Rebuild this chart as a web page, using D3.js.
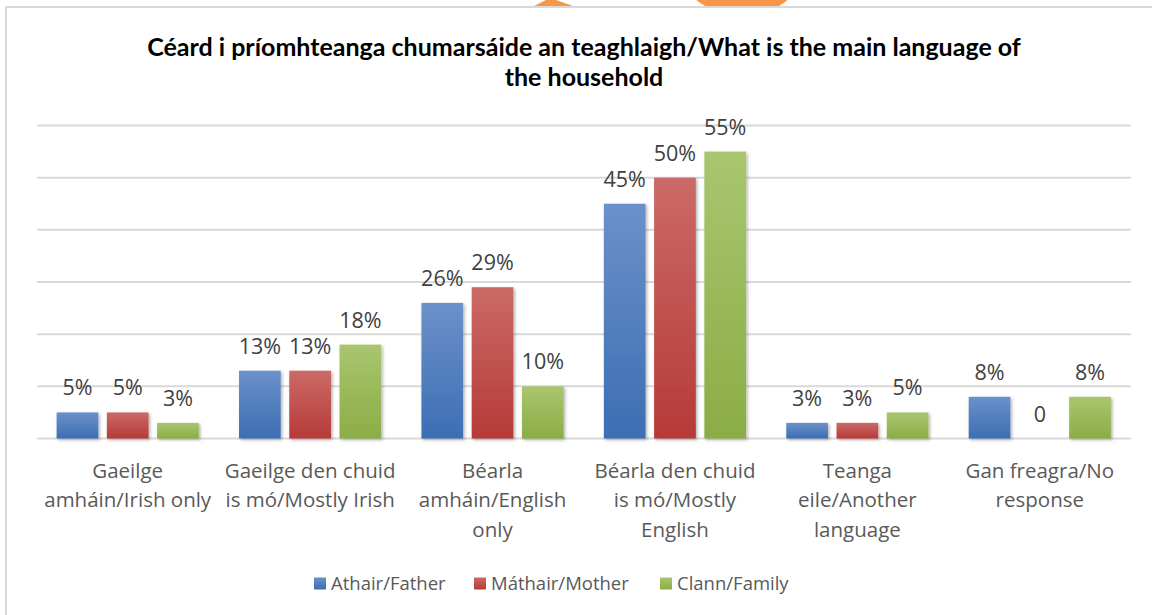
<!DOCTYPE html>
<html>
<head>
<meta charset="utf-8">
<script src="https://cdn.jsdelivr.net/npm/d3@7"></script>
<style>
  html, body { margin: 0; padding: 0; background: #fff; }
  svg { display: block; }
</style>
</head>
<body>
<svg id="chart"></svg>
<script>
// chart data
const categories = [
    ['Gaeilge', 'amháin/Irish only'],
    ['Gaeilge den chuid', 'is mó/Mostly Irish'],
    ['Béarla', 'amháin/English', 'only'],
    ['Béarla den chuid', 'is mó/Mostly', 'English'],
    ['Teanga', 'eile/Another', 'language'],
    ['Gan freagra/No', 'response'],
];
const seriesNames = ['Athair/Father', 'Máthair/Mother', 'Clann/Family'];
const father = [5, 13, 26, 45, 3, 8];
const mother = [5, 13, 29, 50, 3, 0];
const family = [3, 18, 10, 55, 5, 8];
const yTicks = [0, 10, 20, 30, 40, 50, 60];
const titleLines = [
    'Céard i príomhteanga chumarsáide an teaghlaigh/What is the main language of',
    'the household',
];

const width = 1152;
const height = 615;
const colors = [
    { top: '#6b91c9', bottom: '#3c6eb4' },
    { top: '#cb6a67', bottom: '#b63a38' },
    { top: '#a9c66f', bottom: '#8bad45' },
];
const seriesValues = [father, mother, family];

const svg = d3.select('#chart')
    .attr('width', width)
    .attr('height', height);

const defs = svg.append('defs');
colors.forEach((c, i) => {
    const g = defs.append('linearGradient')
        .attr('id', 'grad' + i)
        .attr('x1', 0).attr('y1', 0).attr('x2', 0).attr('y2', 1);
    g.append('stop').attr('offset', '0%').attr('stop-color', c.top);
    g.append('stop').attr('offset', '100%').attr('stop-color', c.bottom);
});
const shadow = defs.append('filter')
    .attr('id', 'shadow')
    .attr('x', '-20%').attr('y', '-20%').attr('width', '140%').attr('height', '140%');
shadow.append('feDropShadow')
    .attr('dx', 1.5).attr('dy', 1.5).attr('stdDeviation', 1.6)
    .attr('flood-color', '#000').attr('flood-opacity', 0.3);

// bits of an orange shape peeking in above the chart box
svg.append('path')
    .attr('d', 'M530,8 L546,0 L556,0 L573,6 L573,8 Z')
    .style('fill', '#f79646');
svg.append('circle')
    .attr('cx', 742).attr('cy', -57).attr('r', 73)
    .style('fill', '#f79646');

// chart box
svg.append('rect')
    .attr('x', 6).attr('y', 7)
    .attr('width', width + 10).attr('height', height + 10)
    .style('fill', '#fff')
    .style('stroke', '#d9d9d9')
    .style('stroke-width', 2);

// title
svg.append('g')
    .selectAll('text')
    .data(titleLines)
    .enter()
    .append('text')
    .attr('x', 584)
    .attr('y', (d, i) => 56 + i * 30)
    .attr('text-anchor', 'middle')
    .style('font-family', 'Lato, "Open Sans", sans-serif')
    .style('font-weight', 'bold')
    .style('font-size', '25px')
    .style('fill', '#000')
    .text((d) => d);

const x0 = d3.scaleBand()
    .domain(d3.range(categories.length))
    .range([36.5, 1131]);

const x1 = d3.scaleBand()
    .domain(d3.range(seriesNames.length))
    .range([0, x0.bandwidth()])
    .paddingInner(0.17)
    .paddingOuter(0.4);

const y = d3.scaleLinear()
    .domain([0, 60])
    .range([438.5, 125.5]);

// gridlines
svg.append('g')
    .selectAll('line')
    .data(yTicks)
    .enter()
    .append('line')
    .attr('x1', 37)
    .attr('x2', 1131)
    .attr('y1', (d) => y(d))
    .attr('y2', (d) => y(d))
    .style('stroke', '#d9d9d9')
    .style('stroke-width', 2);

// bars
const group = svg.append('g')
    .selectAll('g')
    .data(categories.map((c, i) => i))
    .enter()
    .append('g')
    .attr('transform', (i) => `translate(${x0(i)},0)`);

const cells = group.selectAll('g')
    .data((i) => seriesValues.map((vals, s) => ({ s: s, v: vals[i] })))
    .enter()
    .append('g');

cells.filter((d) => d.v > 0)
    .append('rect')
    .attr('x', (d) => x1(d.s))
    .attr('y', (d) => y(d.v))
    .attr('width', x1.bandwidth())
    .attr('height', (d) => y(0) - y(d.v))
    .style('fill', (d) => `url(#grad${d.s})`)
    .attr('filter', 'url(#shadow)');

cells.append('text')
    .attr('x', (d) => x1(d.s) + x1.bandwidth() / 2)
    .attr('y', (d) => y(d.v) - 17)
    .attr('text-anchor', 'middle')
    .style('font-family', '"Open Sans", sans-serif')
    .style('font-size', '21.5px')
    .style('fill', '#404040')
    .text((d) => (d.v === 0 ? '0' : d.v + '%'));

// category labels
const catLabels = svg.append('g')
    .selectAll('text')
    .data(categories)
    .enter()
    .append('text')
    .attr('text-anchor', 'middle')
    .style('font-family', '"Open Sans", sans-serif')
    .style('font-size', '20.5px')
    .style('fill', '#595959');

catLabels.selectAll('tspan')
    .data((d, i) => d.map((line) => ({ line: line, i: i })))
    .enter()
    .append('tspan')
    .attr('x', (d) => x0(d.i) + x0.bandwidth() / 2)
    .attr('y', (d, j) => 477.5 + j * 29.5)
    .text((d) => d.line);

// legend
const legendX = [314, 474, 660];
const legend = svg.append('g')
    .selectAll('g')
    .data(seriesNames)
    .enter()
    .append('g')
    .attr('transform', (d, i) => `translate(${legendX[i]},577.5)`);

legend.append('rect')
    .attr('width', 12)
    .attr('height', 12)
    .style('fill', (d, i) => `url(#grad${i})`);

legend.append('text')
    .attr('x', 17)
    .attr('y', 12.5)
    .style('font-family', '"Open Sans", sans-serif')
    .style('font-size', '18.5px')
    .style('fill', '#595959')
    .text((d) => d);
</script>
</body>
</html>
